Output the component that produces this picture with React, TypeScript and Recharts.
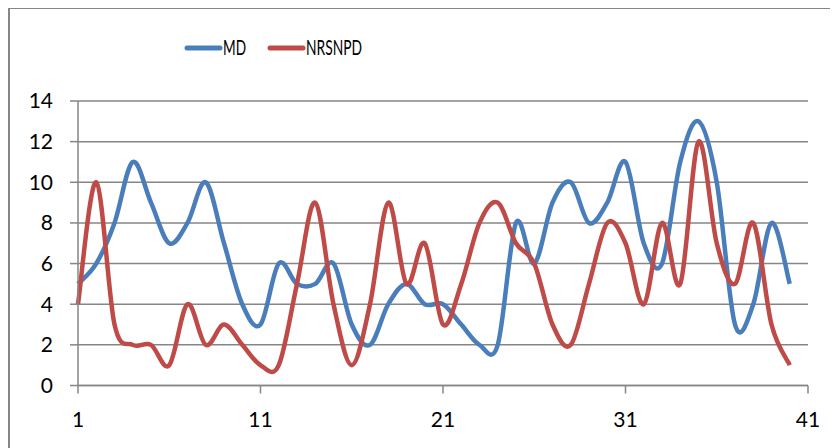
import { CartesianGrid, Legend, Line, LineChart, XAxis, YAxis } from "recharts";

const periods = [
  1, 2, 3, 4, 5, 6, 7, 8, 9, 10, 11, 12, 13, 14, 15, 16, 17, 18, 19, 20,
  21, 22, 23, 24, 25, 26, 27, 28, 29, 30, 31, 32, 33, 34, 35, 36, 37, 38, 39, 40,
];
const mdValues = [
  5, 6, 8, 11, 9, 7, 8, 10, 7, 4, 3, 6, 5, 5, 6, 3, 2, 4, 5, 4,
  4, 3, 2, 2, 8, 6, 9, 10, 8, 9, 11, 7, 6, 11, 13, 10, 3, 4, 8, 5,
];
const nrsnpdValues = [
  4, 10, 3, 2, 2, 1, 4, 2, 3, 2, 1, 1, 5, 9, 4, 1, 4, 9, 5, 7,
  3, 5, 8, 9, 7, 6, 3, 2, 5, 8, 7, 4, 8, 5, 12, 7, 5, 8, 3, 1,
];
const xTicks = [1, 11, 21, 31, 41];
const yTicks = [0, 2, 4, 6, 8, 10, 12, 14];

const SERIES = [
  { key: "MD", color: "#4A7EBB" },
  { key: "NRSNPD", color: "#BE4B48" },
];

const GRID = "#868686";
const FONT = "Lato, 'Open Sans', sans-serif";

const data = periods.map((p, i) => ({ x: p, MD: mdValues[i], NRSNPD: nrsnpdValues[i] }));

// catmull-rom style smoothing, close to what excel draws for "smoothed line"
const excelSmooth = (context: any) => {
  let pts: number[][] = [];
  return {
    areaStart() {},
    areaEnd() {},
    lineStart() { pts = []; },
    point(x: number, y: number) { pts.push([+x, +y]); },
    lineEnd() {
      if (!pts.length) return;
      context.moveTo(pts[0][0], pts[0][1]);
      for (let i = 0; i < pts.length - 1; i++) {
        const p0 = pts[Math.max(i - 1, 0)], p1 = pts[i], p2 = pts[i + 1], p3 = pts[Math.min(i + 2, pts.length - 1)];
        context.bezierCurveTo(
          p1[0] + (p2[0] - p0[0]) / 6, p1[1] + (p2[1] - p0[1]) / 6,
          p2[0] - (p3[0] - p1[0]) / 6, p2[1] - (p3[1] - p1[1]) / 6,
          p2[0], p2[1]);
      }
    },
  };
};

const LegendBox = () => (
  <svg width={200} height={30} style={{ display: "block", overflow: "visible" }}>
    <line x1={9} x2={42} y1={15} y2={15} stroke={SERIES[0].color} strokeWidth={5} strokeLinecap="round" />
    <text x={45} y={22} fontSize={21} fontFamily={FONT} fill="#000" textLength={23} lengthAdjust="spacingAndGlyphs">MD</text>
    <line x1={92} x2={125} y1={15} y2={15} stroke={SERIES[1].color} strokeWidth={5} strokeLinecap="round" />
    <text x={128} y={22} fontSize={21} fontFamily={FONT} fill="#000" textLength={56} lengthAdjust="spacingAndGlyphs">NRSNPD</text>
  </svg>
);

export default function App() {
  const tick = { fontSize: 21, fontFamily: FONT, fill: "#000" };
  return (
    <div style={{ position: "relative", width: 830, height: 440 }}>
      <LineChart width={830} height={440} data={data} margin={{ top: 93, right: 30, bottom: 22.5, left: 10 }}>
        <CartesianGrid vertical={false} stroke={GRID} strokeWidth={1.5} />
        <XAxis dataKey="x" type="number" domain={[1, 41]} ticks={xTicks} interval={0}
          height={40} tickSize={8} tickMargin={19} tick={tick}
          axisLine={{ stroke: GRID, strokeWidth: 1.5 }} tickLine={{ stroke: GRID, strokeWidth: 1.5 }} />
        <YAxis type="number" domain={[0, 14]} ticks={yTicks} interval={0}
          width={60} tickSize={8} tickMargin={17} tick={tick}
          axisLine={{ stroke: GRID, strokeWidth: 1.5 }} tickLine={{ stroke: GRID, strokeWidth: 1.5 }} />
        <Legend verticalAlign="middle" align="center" content={() => <LegendBox />}
          wrapperStyle={{ top: 25, left: 170, width: 200, height: 30 }} />
        {SERIES.map(s => (
          <Line key={s.key} dataKey={s.key} type={excelSmooth as any} stroke={s.color}
            strokeWidth={4.5} dot={false} activeDot={false} isAnimationActive={false} />
        ))}
      </LineChart>
      <div style={{
        position: "absolute", left: 0, top: -1, width: 830, height: 441,
        borderLeft: `2px solid ${GRID}`, borderTop: `2px solid ${GRID}`,
        boxSizing: "border-box", pointerEvents: "none",
      }} />
    </div>
  );
}
